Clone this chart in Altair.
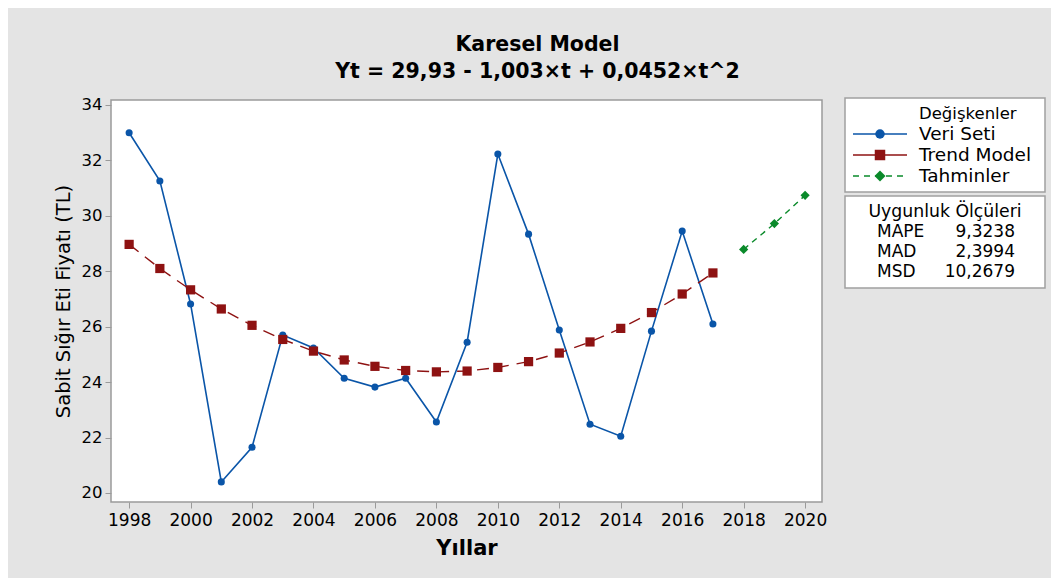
import altair as alt
import pandas as pd

years = list(range(1998, 2018))
veri_seti = [33.00, 31.26, 26.82, 20.40, 21.65, 25.70, 25.23, 24.14, 23.82, 24.14,
             22.56, 25.44, 32.23, 29.34, 25.88, 22.48, 22.05, 25.84, 29.45, 26.10]
trend_model = [28.97, 28.10, 27.33, 26.64, 26.05, 25.54, 25.12, 24.80, 24.57, 24.42,
               24.37, 24.40, 24.53, 24.74, 25.05, 25.45, 25.94, 26.51, 27.18, 27.94]
forecast_years = [2018, 2019, 2020]
tahminler = [28.79, 29.72, 30.74]

x_ticks = list(range(1998, 2021, 2))
y_ticks = list(range(20, 35, 2))

metric_names = ["MAPE", "MAD", "MSD"]
metric_values = ["9,3238", "2,3994", "10,2679"]
legend_names = ["Veri Seti", "Trend Model", "Tahminler"]

BLUE = "#0a55a8"
RED = "#8e1212"
GREEN = "#0a8a2a"
FONT = "DejaVu Sans"

df_data = pd.DataFrame({"Yil": years, "Deger": veri_seti})
df_trend = pd.DataFrame({"Yil": years, "Deger": trend_model})
df_fc = pd.DataFrame({"Yil": forecast_years, "Deger": tahminler})

xs = alt.Scale(domain=[1997.41, 2020.55], nice=False, zero=False)
ys = alt.Scale(domain=[19.675, 34.18], nice=False, zero=False)

x_enc = alt.X("Yil:Q", scale=xs, axis=alt.Axis(
    values=x_ticks, format="d", title="Yıllar", grid=False,
    labelFontSize=17, labelColor="black", labelFont=FONT,
    titleFontSize=21, titleFont=FONT, titleFontWeight="bold", titleColor="black",
    titlePadding=9, tickColor="#9a9a9a", domainColor="#9a9a9a", tickSize=6,
    labelPadding=4, domain=False))
y_enc = alt.Y("Deger:Q", scale=ys, axis=alt.Axis(
    values=y_ticks, format="d", title="Sabit Sığır Eti Fiyatı (TL)", grid=False,
    labelFontSize=16.5, labelColor="black", labelFont=FONT,
    titleFontSize=19.5, titleFont=FONT, titleFontWeight="normal", titleColor="black",
    titlePadding=8, tickColor="#9a9a9a", domainColor="#9a9a9a", tickSize=6,
    labelPadding=3, domain=False))

data_line = alt.Chart(df_data).mark_line(color=BLUE, strokeWidth=1.6).encode(x=x_enc, y=y_enc)
data_pts = alt.Chart(df_data).mark_point(color=BLUE, filled=True, opacity=1, size=50, shape="circle").encode(x="Yil:Q", y="Deger:Q")
trend_line = alt.Chart(df_trend).mark_line(color=RED, strokeWidth=1.4, strokeDash=[12, 8]).encode(x="Yil:Q", y="Deger:Q")
trend_pts = alt.Chart(df_trend).mark_point(color=RED, filled=True, opacity=1, size=85, shape="square").encode(x="Yil:Q", y="Deger:Q")
fc_line = alt.Chart(df_fc).mark_line(color=GREEN, strokeWidth=1.4, strokeDash=[6, 5]).encode(x="Yil:Q", y="Deger:Q")
fc_pts = alt.Chart(df_fc).mark_point(color=GREEN, filled=True, opacity=1, size=85, shape="diamond").encode(x="Yil:Q", y="Deger:Q")

# Legend (drawn as annotation layers outside the plot area)
one = pd.DataFrame({"k": [0]})
def box(y0, y1):
    return alt.Chart(one).mark_rect(fill="white", stroke="#a0a0a0", strokeWidth=1.5).encode(
        x=alt.value(734), x2=alt.value(934), y=alt.value(y0), y2=alt.value(y1))

def txt(s, x, y, align="left", size=17):
    return alt.Chart(pd.DataFrame({"t": [s]})).mark_text(
        align=align, baseline="middle", fontSize=size, font=FONT, color="black").encode(
        text="t:N", x=alt.value(x), y=alt.value(y))

def leg_line(color, dash, y):
    kw = {"strokeDash": dash} if dash else {}
    return alt.Chart(one).mark_rule(color=color, strokeWidth=1.6, **kw).encode(
        x=alt.value(742), x2=alt.value(796), y=alt.value(y))

def leg_pt(color, shape, size, y):
    return alt.Chart(one).mark_point(color=color, filled=True, opacity=1, shape=shape, size=size).encode(
        x=alt.value(769), y=alt.value(y))

legend_rows = [14, 34, 55, 76]
legend_layers = [
    box(-2, 92), box(96, 188),
    txt("Değişkenler", 808, legend_rows[0], size=16.5),
    leg_line(BLUE, None, legend_rows[1]), leg_pt(BLUE, "circle", 90, legend_rows[1]),
    txt(legend_names[0], 808, legend_rows[1], size=18.5),
    leg_line(RED, None, legend_rows[2]), leg_pt(RED, "square", 110, legend_rows[2]),
    txt(legend_names[1], 808, legend_rows[2], size=18.5),
    leg_line(GREEN, [6, 5], legend_rows[3]), leg_pt(GREEN, "diamond", 120, legend_rows[3]),
    txt(legend_names[2], 808, legend_rows[3], size=18.5),
    txt("Uygunluk Ölçüleri", 834, 112, align="center", size=17.3),
]
for i, (n, v) in enumerate(zip(metric_names, metric_values)):
    legend_layers.append(txt(n, 766, 132 + 20 * i, size=17))
    legend_layers.append(txt(v, 904, 132 + 20 * i, align="right", size=17))

chart = alt.layer(
    data_line, data_pts, trend_line, trend_pts, fc_line, fc_pts, *legend_layers
).properties(
    width=711, height=402,
    padding={"left": 103, "top": 92, "right": 229, "bottom": 76},
    autosize=alt.AutoSizeParams(type="none"),
    background="#e4e4e4",
    title=alt.Title(["Karesel Model", "Yt = 29,93 - 1,003×t + 0,0452×t^2"],
                    fontSize=20.5, font=FONT, fontWeight="bold", color="black",
                    anchor="middle", frame="group", dx=71, offset=14, lineHeight=27),
).configure_view(stroke="#9a9a9a", strokeWidth=1.5, fill="white")

chart.save("out.html", embed_options={"renderer": "svg", "actions": False})
